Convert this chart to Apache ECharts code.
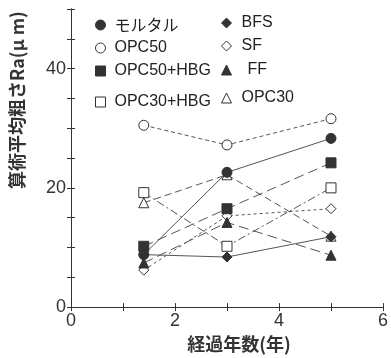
<!DOCTYPE html>
<html><head><meta charset="utf-8">
<script src="https://cdn.jsdelivr.net/npm/echarts@6/dist/echarts.min.js"></script>
<style>html,body{margin:0;padding:0;background:#fff}#c{width:391px;height:358px}</style>
</head><body><div id="c"></div>
<script>
var years = [1.4, 3, 5];
var seriesNames = ['モルタル','OPC50','OPC50+HBG','OPC30+HBG','BFS','SF','FF','OPC30'];
var mortar   = [8.8, 22.6, 28.3];
var opc50    = [30.5, 27.2, 31.6];
var opc50hbg = [10.2, 16.5, 24.2];
var opc30hbg = [19.2, 10.2, 20.0];
var bfs      = [8.8, 8.4, 11.8];
var sf       = [6.2, 15.3, 16.5];
var ff       = [7.4, 14.2, 8.7];
var opc30    = [17.5, 22.2, 11.9];
var yTickLabels = [0, 20, 40];
var xTickLabels = [0, 2, 4, 6];

var C = '#333';
var LC = '#555';
function pts(v){ return years.map(function(x,i){ return [x, v[i]]; }); }
var defs = [
  {v: mortar,   sym:'circle',   fill:true,  dash:'solid'},
  {v: opc50,    sym:'circle',   fill:false, dash:[4,3]},
  {v: opc50hbg, sym:'rect',     fill:true,  dash:[10,5]},
  {v: opc30hbg, sym:'rect',     fill:false, dash:[8,3,2,3]},
  {v: bfs,      sym:'diamond',  fill:true,  dash:'solid'},
  {v: sf,       sym:'diamond',  fill:false, dash:[3,3]},
  {v: ff,       sym:'triangle', fill:true,  dash:[10,5]},
  {v: opc30,    sym:'triangle', fill:false, dash:[7,4]}
];
var symSize = {circle:10, rect:10, diamond:10, triangle:10};
var series = defs.map(function(d,i){
  return {
    name: seriesNames[i], type:'line', data: pts(d.v),
    symbol: d.sym, symbolSize: symSize[d.sym],
    itemStyle:{color: d.fill ? C : '#fff', borderColor: C, borderWidth: 1},
    lineStyle:{color: LC, width:1, type: d.dash},
    z: d.fill ? 3 : 2,
    animation:false
  };
});
var legendPos = [
  {left:90, top:12, gap:9}, {left:90, top:35, gap:9}, {left:90, top:58, gap:9}, {left:90, top:89, gap:9},
  {left:216, top:10, gap:10}, {left:216, top:33, gap:10}, {left:216, top:57, gap:10}, {left:216, top:85, gap:10}
];
var legends = defs.map(function(d,i){
  return {
    left: legendPos[i].left, top: legendPos[i].top, orient:'horizontal',
    itemWidth: 10, itemHeight: 10, itemGap: 5,
    textStyle:{fontFamily: i===0 ? 'Noto Sans CJK JP' : 'Liberation Sans', fontSize: 16, color:'#222',
      padding: [0,0,0, legendPos[i].gap - 5 + (i===6 ? 6 : 0)]},
    data:[{name: seriesNames[i], icon: d.sym,
           itemStyle:{color: d.fill ? C : '#fff', borderColor: C, borderWidth: 1}}],
    selectedMode:false
  };
});
var chart = echarts.init(document.getElementById('c'), null, {renderer:'canvas'});
chart.setOption({
  backgroundColor:'#fff',
  animation:false,
  legend: legends,
  grid:{left:68, right:7, top:9, bottom:37, containLabel:false},
  xAxis:[{
    type:'value', min:0, max:6, interval:1,
    axisLine:{lineStyle:{color:'#333', width:1}},
    axisTick:{inside:true, length:4, lineStyle:{color:'#333'}},
    splitLine:{show:false},
    axisLabel:{fontFamily:'Liberation Sans', fontSize:18, color:'#333', margin:5,
      formatter:function(v){ return xTickLabels.indexOf(v)>=0 ? String(v) : ''; }},
    name:'経過年数(年)', nameLocation:'middle', nameGap:27,
    nameTextStyle:{fontFamily:'Noto Sans CJK JP', fontSize:18, fontWeight:'bold', color:'#333', padding:[0,0,0,24]}
  },{
    type:'value', min:0, max:6, interval:1, position:'top',
    axisLine:{lineStyle:{color:'#333'}},
    axisTick:{inside:true, length:4, lineStyle:{color:'#333'}},
    axisLabel:{show:false}, splitLine:{show:false}
  }],
  yAxis:[{
    type:'value', min:0, max:50, interval:5,
    axisLine:{show:true, lineStyle:{color:'#333', width:1}},
    axisTick:{show:true, inside:true, length:4, lineStyle:{color:'#333'}},
    splitLine:{show:false},
    axisLabel:{fontFamily:'Liberation Sans', fontSize:18, color:'#333', margin:5,
      formatter:function(v){ return yTickLabels.indexOf(v)>=0 ? String(v) : ''; }},
    name:'算術平均粗さRa(μ m)', nameLocation:'middle', nameGap:45, nameRotate:90,
    nameTextStyle:{fontFamily:'Noto Sans CJK JP', fontSize:18, fontWeight:'bold', color:'#333', padding:[0,0,0,116]}
  },{
    type:'value', min:0, max:50, interval:5, position:'right',
    axisLine:{show:true, lineStyle:{color:'#333'}},
    axisTick:{show:true, inside:true, length:4, lineStyle:{color:'#333'}},
    axisLabel:{show:false}, splitLine:{show:false}
  }],
  series: series
});
</script></body></html>
